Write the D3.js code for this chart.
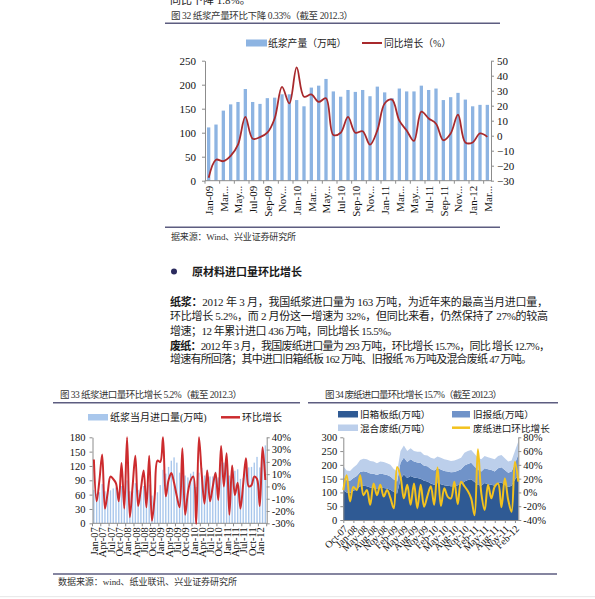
<!DOCTYPE html>
<html>
<head>
<meta charset="utf-8">
<script src="https://cdn.jsdelivr.net/npm/d3@7"></script>
<style>
body { margin:0; background:#fff; }
svg text { font-family:"Liberation Serif","Noto Sans CJK SC",serif; }
</style>
</head>
<body>
<script>
// ---- fig 32: pulp output (Jan-09 .. Mar-12)
var c32Labels = ["Jan-09","Mar...","May...","Jul-09","Sep-09","Nov...","Jan-10","Mar...","May...","Jul-10",
                 "Sep-10","Nov...","Jan-11","Mar...","May...","Jul-11","Sep-11","Nov...","Jan-12","Mar..."];
var c32Output = [111,117,146,159,164,191,164,160,172,173,180,180,168,155,194,198,212,186,175,189,
                 185,189,176,196,184,172,192,186,186,198,189,192,168,174,183,169,155,158,158];
var c32Yoy = [-28,-16,-17,-13.5,-6,12.5,-2,-1,2,11.5,32.5,21.5,45.5,26,27.5,22.5,25,0.5,2,12.5,
              2,3,-6,3.5,21.5,24,10,3.5,-3.5,16,11.5,8,-3,1.5,14,-4.5,-4.5,1.5,-0.8];

// ---- fig 33: pulp imports (Jan-07 .. Mar-12)
var c33Labels = ["Jan-07","Apr-07","Jul-07","Oct-07","Jan-08","Apr-08","Jul-08","Oct-08","Jan-09","Apr-09","Jul-09",
                 "Oct-09","Jan-10","Apr-10","Jul-10","Oct-10","Jan-11","Apr-11","Jul-11","Oct-11","Jan-12"];
var c33Import = [70,62,65,82,67,64,69,73,75,66,78,64,
                 90,67,67,84,70,69,78,65,81,58,54,65,
                 80,112,104,118,131,138,127,106,130,100,96,104,
                 108,76,106,116,100,112,98,98,108,96,127,127,
                 128,100,118,110,113,93,95,117,117,118,127,139,
                 117,155,163];
var c33Mom = [22,-12,5,26,-18,-5,8,6,2.5,-12,19,-18,
              40,-25,0,25,-16,-2,13,-17,25,-28,-8,21,
              20,40,-8,5,11,3,-8,-17,31,-23,-5,5,
              8,-30.5,40,10,-14,13,-12,0,11,-11,33,0,
              27,-23,17,-7,3,-18,2,23,0,1,8,6,
              -16,32,5.2];

// ---- fig 34: waste paper imports (Oct-07 .. Mar-12)
var c34Labels = ["Oct-07","Jan-08","May-08","Aug-08","Nov-08","Feb-09","May-09","Aug-09","Nov-09",
                 "Feb-10","May-10","Aug-10","Nov-10","Feb-11","May-11","Aug-11","Nov-11","Feb-12"];
var c34Box = [108,100,98,106,112,122,124,122,118,118,114,118,116,114,110,102,96,
              150,165,152,160,154,152,150,142,
              140,132,128,134,130,126,124,122,122,126,130,
              140,145,148,138,128,
              124,134,130,128,124,134,136,128,120,124,146,162];
var c34News = [48,44,44,46,48,52,53,52,51,50,49,51,50,49,48,45,44,
               58,62,58,60,58,57,57,55,
               55,53,52,54,53,52,52,51,52,53,54,
               58,58,60,56,54,
               52,54,54,53,52,54,55,53,51,52,58,76];
var c34Mixed = [39,36,36,38,40,44,45,46,45,44,43,43,44,43,42,38,36,
                42,43,40,40,38,39,41,39,
                39,41,42,42,43,42,42,41,42,41,42,
                46,47,46,46,44,
                44,44,44,43,44,44,45,43,41,40,46,47];
var c34Mom = [3.5,25,-13,8,3.5,25,-4,3.5,-18,13,-4,11,-6,3.5,-8,
              -23,37,23,-8.6,11,-18,13,-23,11,-20.6,-5,9,-18,36,
              -19.5,6,-6,-8.6,15.6,-17,15.6,9,2,
              -8.6,-33,62.5,-1,-25.6,11,-8.6,8.4,13,-21.6,20.6,-11,-28,44.6,15.7];

var svg = d3.select("body").append("svg").attr("width",595).attr("height",599);
var ruleColor = "#5d5d80", axisColor = "#8c8c8c", txt = "#1a1a1a";
var cjk = "\"Noto Sans CJK SC\",sans-serif";

function styleAxis(g, size) {
	g.attr("font-family","Liberation Serif").attr("font-size",size || 10);
	g.selectAll(".domain").attr("stroke",axisColor);
	g.selectAll(".tick line").attr("stroke",axisColor);
	g.selectAll("text").attr("fill","#111");
	return g;
}
function rule(x1,x2,y) {
	svg.append("line").attr("x1",x1).attr("x2",x2).attr("y1",y).attr("y2",y)
		.attr("stroke",ruleColor).attr("stroke-width",1.6);
}
function label(x,y,s,size,opts) {
	var t = svg.append("text").attr("x",x).attr("y",y).attr("font-size",size).attr("fill",(opts&&opts.fill)||txt).text(s);
	if (opts && opts.len) t.attr("textLength",opts.len).attr("lengthAdjust","spacing");
	if (opts && opts.bold) t.attr("font-weight","bold");
	return t;
}
function legRect(x,y,w,h,c) { svg.append("rect").attr("x",x).attr("y",y).attr("width",w).attr("height",h).attr("fill",c); }
function legLine(x1,x2,y,c,w) { svg.append("line").attr("x1",x1).attr("x2",x2).attr("y1",y).attr("y2",y).attr("stroke",c).attr("stroke-width",w); }

// ---------- page text (top, cut by the page edge as in the scan)
label(170,4.2,"同比下降 1.8%。",11);
label(171,19,"图 32 纸浆产量环比下降 0.33%（截至 2012.3）",9.5,{len:182,fill:"#333"});
rule(165,500,23.3);

// ---------- fig 32
(function(){
	var bar = "#8db4e2", red = "#a8292c";
	var x = d3.scalePoint().domain(d3.range(c32Output.length)).range([205,491]).padding(0.5);
	var y = d3.scaleLinear().domain([0,250]).range([180.7,60.7]);
	var yr = d3.scaleLinear().domain([-30,50]).range([180.7,60.7]);
	var bw = x.step()*0.45;

	svg.append("g").selectAll("rect").data(c32Output).enter().append("rect")
		.attr("x",function(d,i){return x(i)-bw/2;})
		.attr("y",function(d){return y(d);})
		.attr("width",bw)
		.attr("height",function(d){return y(0)-y(d);})
		.attr("fill",bar);

	styleAxis(svg.append("g").attr("transform","translate(205,0)")
		.call(d3.axisLeft(y).tickValues(d3.range(0,251,50)).tickSize(3).tickSizeOuter(0).tickPadding(6)), 11);
	styleAxis(svg.append("g").attr("transform","translate(491,0)")
		.call(d3.axisRight(yr).tickValues(d3.range(-30,51,10)).tickSize(3).tickSizeOuter(0).tickPadding(3)), 11);

	var xa = svg.append("g").attr("transform","translate(0,180.7)")
		.call(d3.axisBottom(x).tickValues(d3.range(0,c32Output.length,2))
			.tickFormat(function(d){return c32Labels[d/2];}).tickSize(0).tickSizeOuter(0));
	styleAxis(xa, 11);
	xa.select(".domain").attr("d","M205,0H491");
	xa.selectAll("text").attr("transform","rotate(-90)").attr("text-anchor","end")
		.attr("x",-5).attr("y",0).attr("dy","0.35em");
	xa.selectAll(".mk").data(d3.range(0,c32Output.length+1,2)).enter().append("line")
		.attr("x1",function(i){return x(0)-x.step()/2+i*x.step();})
		.attr("x2",function(i){return x(0)-x.step()/2+i*x.step();})
		.attr("y1",0).attr("y2",3).attr("stroke",axisColor);

	svg.append("path").datum(c32Yoy)
		.attr("d",d3.line().x(function(d,i){return x(i);}).y(function(d){return yr(d);}).curve(d3.curveCatmullRom))
		.attr("fill","none").attr("stroke",red).attr("stroke-width",1.8);

	legRect(246,39.5,21,7,bar);
	label(268,46.8,"纸浆产量（万吨）",9.8).attr("font-family",cjk);
	legLine(362,382,43,red,2);
	label(384,46.8,"同比增长（%）",9.8).attr("font-family",cjk);
})();

rule(165,500,227.3);
label(171,240,"据来源：Wind、兴业证券研究所",9,{len:125,fill:"#333"});

// ---------- body text
svg.append("circle").attr("cx",174).attr("cy",271.5).attr("r",3).attr("fill","#2b2b5e");
label(192,275.6,"原材料进口量环比增长",11,{bold:true});

var l1 = label(170,306.3,"",11,{len:378});
l1.append("tspan").attr("font-weight","bold").text("纸浆：");
l1.append("tspan").text("2012 年 3 月，我国纸浆进口量为 163 万吨，为近年来的最高当月进口量，");
label(170,320,"环比增长 5.2%，而 2 月份这一增速为 32%，但同比来看，仍然保持了 27%的较高",11,{len:378});
label(170,334.6,"增速；12 年累计进口 436 万吨，同比增长 15.5%。",11,{len:228});
var l4 = label(170,349.6,"",11,{len:380});
l4.append("tspan").attr("font-weight","bold").text("废纸：");
l4.append("tspan").text("2012 年 3 月，我国废纸进口量为 293 万吨，环比增长 15.7%，同比 增长 12.7%，");
label(170,363.3,"增速有所回落；其中进口旧箱纸板 162 万吨、旧报纸 76 万吨及混合废纸 47 万吨。",11,{len:362});

// ---------- fig 33
label(60,397.5,"图 33 纸浆进口量环比增长 5.2%（截至 2012.3）",9.5,{len:182,fill:"#333"});
rule(53,300,402.7);
(function(){
	var bar = "#a9c7ec", red = "#cc2b2e";
	var x = d3.scalePoint().domain(d3.range(c33Import.length)).range([92.5,266.7]).padding(0.5);
	var y = d3.scaleLinear().domain([0,180]).range([523.3,437.3]);
	var yr = d3.scaleLinear().domain([-30,40]).range([523.3,437.3]);
	var bw = x.step()*0.5;

	svg.append("g").selectAll("rect").data(c33Import).enter().append("rect")
		.attr("x",function(d,i){return x(i)-bw/2;})
		.attr("y",function(d){return y(d);})
		.attr("width",bw)
		.attr("height",function(d){return y(0)-y(d);})
		.attr("fill",bar);

	styleAxis(svg.append("g").attr("transform","translate(92.5,0)")
		.call(d3.axisLeft(y).tickValues(d3.range(0,181,30)).tickSize(3).tickSizeOuter(0).tickPadding(4)), 10.5);
	styleAxis(svg.append("g").attr("transform","translate(266.7,0)")
		.call(d3.axisRight(yr).tickValues(d3.range(-30,41,10)).tickFormat(function(d){return d+"%";})
			.tickSize(3).tickSizeOuter(0).tickPadding(2)), 10.5);

	var xa = svg.append("g").attr("transform","translate(0,523.3)")
		.call(d3.axisBottom(x).tickValues(d3.range(0,c33Import.length,3))
			.tickFormat(function(d){return c33Labels[d/3];}).tickSize(0).tickSizeOuter(0));
	styleAxis(xa, 10.5);
	xa.select(".domain").attr("d","M92.5,0H266.7");
	xa.selectAll("text").attr("transform","rotate(-90)").attr("text-anchor","end")
		.attr("x",-4).attr("y",0).attr("dy","0.35em");
	xa.selectAll(".mk").data(d3.range(0,c33Import.length+1,3)).enter().append("line")
		.attr("x1",function(i){return x(0)-x.step()/2+i*x.step();})
		.attr("x2",function(i){return x(0)-x.step()/2+i*x.step();})
		.attr("y1",0).attr("y2",3).attr("stroke",axisColor);

	svg.append("path").datum(c33Mom)
		.attr("d",d3.line().x(function(d,i){return x(i);}).y(function(d){return yr(d);}).curve(d3.curveCatmullRom))
		.attr("fill","none").attr("stroke",red).attr("stroke-width",2);

	legRect(88,414,20,6.5,bar);
	label(110,421.3,"纸浆当月进口量(万吨)",10).attr("font-family",cjk);
	legLine(221,240,417.3,red,2.5);
	label(242,421.3,"环比增长",10).attr("font-family",cjk);
})();

// ---------- fig 34
label(325,397.5,"图 34 废纸进口量环比增长 15.7%（截至 2012.3）",9.5,{len:177,fill:"#333"});
rule(308,558,402.7);
(function(){
	var cols = ["#2f5a94","#7093c9","#bccfeb"], yel = "#f3c21e";
	var keys = ["box","news","mixed"];
	var table = c34Box.map(function(d,i){ return {box:d, news:c34News[i], mixed:c34Mixed[i]}; });
	var x = d3.scalePoint().domain(d3.range(c34Box.length)).range([343.3,518.3]);
	var y = d3.scaleLinear().domain([0,300]).range([520,437.3]);
	var yr = d3.scaleLinear().domain([-40,80]).range([520,437.3]);
	var series = d3.stack().keys(keys)(table);

	svg.append("g").selectAll("path").data(series).enter().append("path")
		.attr("d",d3.area().x(function(d,i){return x(i);}).y0(function(d){return y(d[0]);}).y1(function(d){return y(d[1]);}))
		.attr("fill",function(d,i){return cols[i];});

	styleAxis(svg.append("g").attr("transform","translate(343.3,0)")
		.call(d3.axisLeft(y).tickValues(d3.range(0,301,50)).tickSize(3).tickSizeOuter(0).tickPadding(3)), 10.5);
	styleAxis(svg.append("g").attr("transform","translate(518.3,0)")
		.call(d3.axisRight(yr).tickValues(d3.range(-40,81,20)).tickFormat(function(d){return d+"%";})
			.tickSize(3).tickSizeOuter(0).tickPadding(2)), 10.5);

	var xa = svg.append("g").attr("transform","translate(0,520)")
		.call(d3.axisBottom(x).tickValues(d3.range(0,c34Box.length,3))
			.tickFormat(function(d){return c34Labels[d/3];}).tickSize(3).tickSizeOuter(0));
	styleAxis(xa, 10);
	xa.selectAll("text").attr("transform","translate(2,7) rotate(-45)").attr("text-anchor","end")
		.attr("x",0).attr("y",0).attr("dy","0.35em");

	svg.append("path").datum(c34Mom)
		.attr("d",d3.line().x(function(d,i){return x(i);}).y(function(d){return yr(d);}).curve(d3.curveCatmullRom))
		.attr("fill","none").attr("stroke",yel).attr("stroke-width",2);

	legRect(338,411,20,6.5,cols[0]);
	label(360,418,"旧箱板纸(万吨）",9.6).attr("font-family",cjk);
	legRect(452,411,18,6.5,cols[1]);
	label(473,418,"旧报纸(万吨）",9.6).attr("font-family",cjk);
	legRect(338,424.5,20,6.5,cols[2]);
	label(360,431.5,"混合废纸(万吨）",9.6).attr("font-family",cjk);
	legLine(452,470,427.7,yel,2.5);
	label(473,431.5,"废纸进口环比增长",9.6).attr("font-family",cjk);
})();

rule(53,557,574);
label(58,585,"数据来源：wind、纸业联讯、兴业证券研究所",9,{len:179,fill:"#333"});
svg.append("line").attr("x1",0).attr("x2",595).attr("y1",596.7).attr("y2",596.7).attr("stroke","#e6e6e6");
</script>
</body>
</html>
